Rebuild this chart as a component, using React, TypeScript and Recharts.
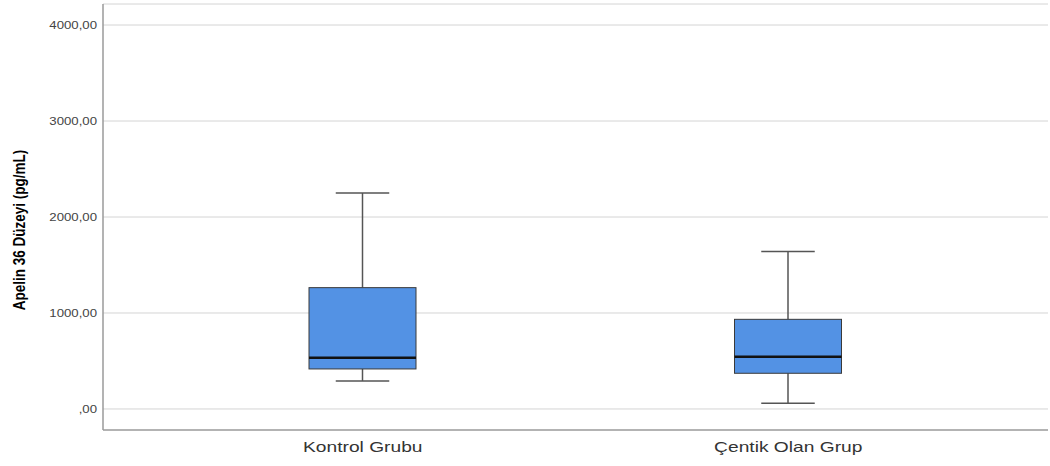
import { ComposedChart, Bar, XAxis, YAxis, CartesianGrid, Label } from "recharts"

const groups = ["Kontrol Grubu", "Çentik Olan Grup"]
const minValues = [292, 59]
const q1Values = [417, 372]
const medianValues = [534, 545]
const q3Values = [1264, 934]
const maxValues = [2250, 1640]
const yTicks = [0, 1000, 2000, 3000, 4000]

const data = groups.map((name, i) => ({
  name,
  range: [minValues[i], maxValues[i]],
  min: minValues[i],
  q1: q1Values[i],
  median: medianValues[i],
  q3: q3Values[i],
  max: maxValues[i],
}))

const fmt = (v: number) => (v === 0 ? ",00" : `${v},00`)

// box drawn inside the min..max range bar, using its own pixel scale
const BoxShape = (props: any) => {
  const { x, y, width, height, payload } = props
  const top = Math.min(y, y + height)
  const h = Math.abs(height)
  const k = h / (payload.max - payload.min)
  const py = (v: number) => top + (payload.max - v) * k
  const cx = x + width / 2
  const cap = width / 4
  const whisker = { stroke: "#555", strokeWidth: 1.5 }
  return (
    <g>
      <line x1={cx} x2={cx} y1={py(payload.max)} y2={py(payload.q3)} {...whisker} />
      <line x1={cx} x2={cx} y1={py(payload.q1)} y2={py(payload.min)} {...whisker} />
      <line x1={cx - cap} x2={cx + cap} y1={py(payload.max)} y2={py(payload.max)} {...whisker} />
      <line x1={cx - cap} x2={cx + cap} y1={py(payload.min)} y2={py(payload.min)} {...whisker} />
      <rect
        x={x}
        y={py(payload.q3)}
        width={width}
        height={py(payload.q1) - py(payload.q3)}
        fill="#5392e4"
        stroke="#3a3a3a"
        strokeWidth={1}
      />
      <line x1={x} x2={x + width} y1={py(payload.median)} y2={py(payload.median)} stroke="#111" strokeWidth={2.5} />
    </g>
  )
}

const XTick = ({ x, y, payload }: any) => (
  <g transform={`translate(${x},${y})`}>
    <text
      x={0}
      y={0}
      dy="0.71em"
      textAnchor="middle"
      transform="scale(1.28,1)"
      fontSize={15}
      fill="#333"
      fontFamily="'Liberation Sans', Arial, sans-serif"
    >
      {payload.value}
    </text>
  </g>
)

const YTick = ({ x, y, payload }: any) => (
  <g transform={`translate(${x},${y})`}>
    <text
      x={0}
      y={0}
      dy="0.355em"
      textAnchor="end"
      transform="scale(1.2,1)"
      fontSize={11}
      fill="#444"
      fontFamily="'Liberation Sans', Arial, sans-serif"
    >
      {fmt(payload.value)}
    </text>
  </g>
)

const YLabel = ({ viewBox }: any) => {
  const cx = viewBox.x + 19
  const cy = viewBox.y + viewBox.height / 2 + 13
  return (
    <g transform={`translate(${cx},${cy}) scale(1.28,1) rotate(-90)`}>
      <text
        x={0}
        y={0}
        dy="0.355em"
        textAnchor="middle"
        fontSize={13.5}
        fontWeight="bold"
        fill="#000"
        fontFamily="'Liberation Sans', Arial, sans-serif"
      >
        Apelin 36 Düzeyi (pg/mL)
      </text>
    </g>
  )
}

export default function App() {
  return (
    <div style={{ position: "absolute", left: 0, top: 0, background: "#fff" }}>
      <ComposedChart width={1050} height={466} data={data} margin={{ top: 4, right: 2, bottom: 0, left: 0 }}>
        <CartesianGrid vertical={false} stroke="#d4d4d4" />
        <XAxis
          dataKey="name"
          height={36}
          padding={{ left: 47, right: 47 }}
          axisLine={{ stroke: "#a0a0a0", strokeWidth: 1.5 }}
          tickLine={false}
          tickSize={0}
          tickMargin={11}
          tick={<XTick />}
        />
        <YAxis
          type="number"
          width={103}
          domain={[-219, 4219]}
          ticks={yTicks}
          axisLine={{ stroke: "#9a9a9a", strokeWidth: 1.5 }}
          tickLine={false}
          tickSize={0}
          tickMargin={6}
          tick={<YTick />}
        >
          <Label content={<YLabel />} />
        </YAxis>
        <Bar dataKey="range" barSize={107} shape={<BoxShape />} isAnimationActive={false} />
      </ComposedChart>
    </div>
  )
}
